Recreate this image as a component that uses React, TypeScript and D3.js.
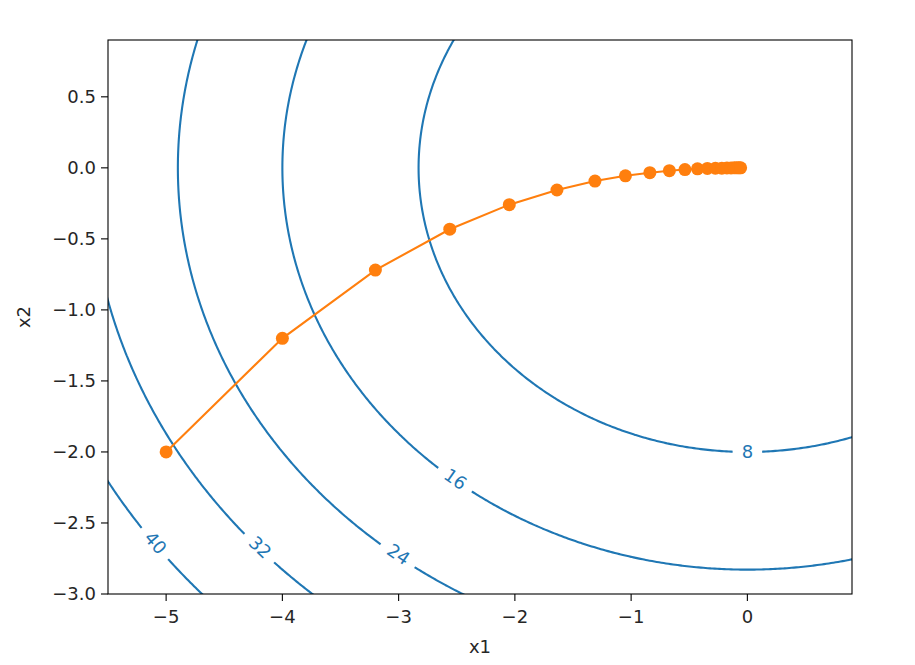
import * as d3 from "d3";

// contour levels shown in the plot
const levels = [8, 16, 24, 32, 40];

// where the inline contour labels sit (data coordinates)
const labelLevels = [8, 16, 24, 32, 40];
const labelX1 = [0, -2.51, -3.0, -4.19, -5.09];
const labelX2 = [-2.0, -2.19, -2.72, -2.67, -2.64];

// gradient descent trajectory
const trajX1 = [
  -5, -4, -3.2, -2.56, -2.048, -1.638, -1.311, -1.049, -0.839, -0.671, -0.537,
  -0.429, -0.344, -0.275, -0.22, -0.176, -0.141, -0.113, -0.09, -0.072, -0.058,
];
const trajX2 = [
  -2, -1.2, -0.72, -0.432, -0.259, -0.156, -0.093, -0.056, -0.034, -0.02,
  -0.012, -0.007, -0.004, -0.003, -0.002, -0.001, -0.001, 0, 0, 0, 0,
];

const xTicks = [-5, -4, -3, -2, -1, 0];
const yTicks = [0.5, 0.0, -0.5, -1.0, -1.5, -2.0, -2.5, -3.0];

// objective whose level sets are drawn
const f = (x1: number, x2: number) => x1 * x1 + 2 * x2 * x2;

const W = 915;
const H = 665;
const margin = { left: 108, right: 63, top: 40, bottom: 71 };
const FONT = "DejaVu Sans, sans-serif";
const BLUE = "#1f77b4";
const ORANGE = "#ff7f0e";

const fmtY = (v: number) => v.toFixed(1).replace("-", "\u2212");
const fmtX = (v: number) => String(v).replace("-", "\u2212");

export default function App() {
  const x = d3
    .scaleLinear()
    .domain([-5.5, 0.9])
    .range([margin.left, W - margin.right]);
  const y = d3
    .scaleLinear()
    .domain([-3.0, 0.9])
    .range([H - margin.bottom, margin.top]);

  // sample grid a bit larger than the view so closing edges fall outside the clip
  const gx0 = -8,
    gy0 = -5,
    step = 0.02;
  const nx = Math.round((3 - gx0) / step) + 1;
  const ny = Math.round((3 - gy0) / step) + 1;
  const values = new Float64Array(nx * ny);
  for (let j = 0; j < ny; j++) {
    for (let i = 0; i < nx; i++) {
      values[j * nx + i] = f(gx0 + i * step, gy0 + j * step);
    }
  }
  const contours = d3.contours().size([nx, ny]).smooth(true).thresholds(levels)(
    values as unknown as number[]
  );
  const path = d3.geoPath(
    d3.geoTransform({
      point(px: number, py: number) {
        this.stream.point(
          x(gx0 + (px - 0.5) * step),
          y(gy0 + (py - 0.5) * step)
        );
      },
    })
  );

  const kx = x(1) - x(0);
  const ky = y(0) - y(1);
  const labels = labelLevels.map((lv, i) => {
    const a = labelX1[i];
    const b = labelX2[i];
    // tangent of the level curve in pixel space
    const gx = (2 * a) / kx;
    const gy = -(4 * b) / ky;
    let tx = -gy,
      ty = gx;
    if (tx < 0) {
      tx = -tx;
      ty = -ty;
    }
    const ang = (Math.atan2(ty, tx) * 180) / Math.PI;
    const text = String(lv);
    const w = text.length * 11.5 + 18;
    return { px: x(a), py: y(b), ang, text, w };
  });

  const line = d3
    .line<number>()
    .x((i) => x(trajX1[i]))
    .y((i) => y(trajX2[i]));
  const idx = trajX1.map((_, i) => i);

  const left = margin.left;
  const right = W - margin.right;
  const top = margin.top;
  const bottom = H - margin.bottom;

  return (
    <svg
      width={W}
      height={H}
      style={{ position: "absolute", left: 0, top: 0, background: "#fff" }}
      fontFamily={FONT}
    >
      <defs>
        <clipPath id="plot">
          <rect x={left} y={top} width={right - left} height={bottom - top} />
        </clipPath>
        <mask id="gaps" maskUnits="userSpaceOnUse" x={0} y={0} width={W} height={H}>
          <rect x={0} y={0} width={W} height={H} fill="#fff" />
          {labels.map((l, i) => (
            <rect
              key={i}
              x={-l.w / 2}
              y={-12}
              width={l.w}
              height={24}
              fill="#000"
              transform={`translate(${l.px},${l.py}) rotate(${l.ang})`}
            />
          ))}
        </mask>
      </defs>
      <rect x={0} y={0} width={W} height={H} fill="#fff" />

      <g clipPath="url(#plot)">
        <g mask="url(#gaps)">
          {contours.map((c, i) => (
            <path key={i} d={path(c as any) ?? ""} fill="none" stroke={BLUE} strokeWidth={2.1} />
          ))}
        </g>
        {labels.map((l, i) => (
          <text
            key={i}
            transform={`translate(${l.px},${l.py}) rotate(${l.ang})`}
            textAnchor="middle"
            dominantBaseline="central"
            fontSize={18}
            fill={BLUE}
          >
            {l.text}
          </text>
        ))}
        <path d={line(idx) ?? ""} fill="none" stroke={ORANGE} strokeWidth={2.1} />
        {idx.map((i) => (
          <circle key={i} cx={x(trajX1[i])} cy={y(trajX2[i])} r={6.5} fill={ORANGE} />
        ))}
      </g>

      <rect
        x={left}
        y={top}
        width={right - left}
        height={bottom - top}
        fill="none"
        stroke="#000"
        strokeWidth={1.1}
      />

      {xTicks.map((t) => (
        <g key={t} transform={`translate(${x(t)},${bottom})`}>
          <line y2={7} stroke="#000" strokeWidth={1.1} />
          <text y={29} textAnchor="middle" fontSize={18} fill="#262626">
            {fmtX(t)}
          </text>
        </g>
      ))}
      {yTicks.map((t) => (
        <g key={t} transform={`translate(${left},${y(t)})`}>
          <line x2={-7} stroke="#000" strokeWidth={1.1} />
          <text x={-12} dy="0.35em" textAnchor="end" fontSize={18} fill="#262626">
            {fmtY(t)}
          </text>
        </g>
      ))}

      <text x={(left + right) / 2} y={653} textAnchor="middle" fontSize={18} fill="#262626">
        x1
      </text>
      <text
        transform={`translate(30,${(top + bottom) / 2}) rotate(-90)`}
        textAnchor="middle"
        fontSize={18}
        fill="#262626"
      >
        x2
      </text>
    </svg>
  );
}
